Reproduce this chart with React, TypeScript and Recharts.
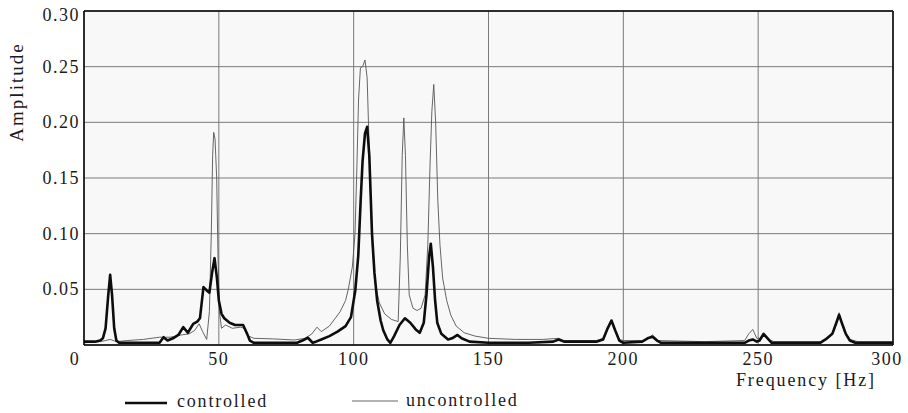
import React from 'react';
import { LineChart, Line, XAxis, YAxis, CartesianGrid, ReferenceLine } from 'recharts';

// frequency axis [Hz] and amplitudes
const freqControlled = [
  0, 4, 6, 7, 8, 9, 9.7, 10.4, 11.2, 12, 13, 20, 28, 29.5, 31, 33, 35, 36.8, 38.5, 40.5,
  42, 43, 44.3, 45.5, 46.5, 47.5, 48.4, 49.3, 50, 51, 52, 54, 56, 59, 60.5, 61.5, 63, 79, 81, 83,
  84.8, 86, 88, 91, 94, 97, 99, 100.6, 101.7, 102.6, 103.3, 104.2, 105, 105.8, 106.8, 107.7, 108.7, 110, 111, 112.5,
  113.6, 115, 117, 119, 121, 123, 124.5, 126, 127, 128, 128.6, 129.4, 130.2, 131, 132.5, 135, 136.5, 138.5, 140, 143,
  150, 165, 174, 176, 178, 190, 192.5, 194, 195.6, 197, 198.5, 200, 207, 209, 210.8, 212.5, 214, 230, 245, 246.5,
  248, 249.5, 250.5, 252, 253.5, 255, 273, 275, 277.5, 279, 280, 281, 282.5, 284, 286, 300,
];
const ampControlled = [
  0.003, 0.003, 0.004, 0.006, 0.015, 0.045, 0.063, 0.045, 0.015, 0.004, 0.002, 0.002, 0.002, 0.007, 0.004, 0.006, 0.009, 0.016, 0.011, 0.019,
  0.021, 0.024, 0.052, 0.049, 0.047, 0.065, 0.078, 0.06, 0.04, 0.028, 0.024, 0.02, 0.018, 0.018, 0.01, 0.004, 0.002, 0.002, 0.004, 0.0065,
  0.002, 0.003, 0.005, 0.008, 0.012, 0.017, 0.025, 0.049, 0.08, 0.13, 0.165, 0.19, 0.196, 0.17, 0.1, 0.065, 0.04, 0.022, 0.013, 0.005,
  0.002, 0.008, 0.018, 0.024, 0.02, 0.014, 0.011, 0.02, 0.045, 0.08, 0.091, 0.07, 0.04, 0.02, 0.01, 0.005, 0.006, 0.009, 0.006, 0.003,
  0.002, 0.002, 0.003, 0.005, 0.003, 0.003, 0.005, 0.014, 0.022, 0.013, 0.004, 0.002, 0.003, 0.006, 0.0075, 0.004, 0.002, 0.002, 0.002, 0.004,
  0.005, 0.003, 0.004, 0.01, 0.006, 0.002, 0.002, 0.005, 0.01, 0.02, 0.027, 0.02, 0.01, 0.004, 0.002, 0.002,
];

const freqUncontrolled = [
  0, 6, 8, 9.7, 12, 16, 22, 28, 32, 36, 39, 41, 42.7, 44, 45.5, 46.5, 47.2, 47.7, 48.1, 48.6,
  49.2, 49.7, 50.2, 51, 52.5, 55, 58, 59.5, 61, 63, 70, 78, 82, 84.5, 86.4, 88, 91, 95, 97, 98,
  99.5, 100.5, 101.2, 101.8, 102.5, 103.3, 104.2, 105, 105.6, 106.3, 107, 108, 109.5, 111.5, 114, 116.5, 117.3, 118, 118.6, 119.2,
  119.9, 120.6, 122, 123.5, 125, 126.5, 127.5, 128.3, 129, 129.7, 130.4, 131.2, 132, 133, 134.5, 136, 138, 141, 145, 150,
  160, 170, 176, 178, 190, 192.5, 194, 195.6, 197, 198.5, 200, 208, 210.8, 213, 230, 245, 246.5, 248, 249.5, 251,
  252, 253.5, 256, 273, 276, 278, 279.3, 280, 280.8, 282, 284, 287, 300,
];
const ampUncontrolled = [
  0.002, 0.003, 0.004, 0.005, 0.003, 0.004, 0.005, 0.007, 0.007, 0.009, 0.01, 0.013, 0.019, 0.012, 0.005, 0.03, 0.1, 0.17, 0.191, 0.185,
  0.15, 0.08, 0.03, 0.015, 0.018, 0.015, 0.016, 0.015, 0.008, 0.006, 0.0055, 0.0045, 0.006, 0.01, 0.016, 0.012, 0.017, 0.03, 0.04, 0.05,
  0.07, 0.1, 0.16, 0.22, 0.249, 0.25, 0.256, 0.24, 0.19, 0.13, 0.085, 0.055, 0.038, 0.028, 0.023, 0.021, 0.08, 0.17, 0.204, 0.17,
  0.09, 0.045, 0.033, 0.031, 0.033, 0.045, 0.09, 0.16, 0.21, 0.234, 0.2, 0.13, 0.09, 0.06, 0.04, 0.027, 0.017, 0.011, 0.008, 0.006,
  0.005, 0.005, 0.006, 0.004, 0.004, 0.006, 0.014, 0.021, 0.013, 0.005, 0.004, 0.004, 0.009, 0.004, 0.003, 0.004, 0.01, 0.014, 0.006, 0.006,
  0.009, 0.005, 0.003, 0.003, 0.006, 0.012, 0.022, 0.029, 0.022, 0.012, 0.005, 0.003, 0.003,
];

const xTicks = [0, 50, 100, 150, 200, 250, 300];
const yTicks = [0, 0.05, 0.1, 0.15, 0.2, 0.25, 0.3];

const controlled = freqControlled.map((f, i) => ({ f, a: ampControlled[i] }));
const uncontrolled = freqUncontrolled.map((f, i) => ({ f, a: ampUncontrolled[i] }));

const FONT = '"Liberation Serif", "DejaVu Serif", serif';
const INK = '#1a1a1a';

const XTick = ({ x, y, payload }: any) => (
  <text
    x={payload.value === 0 ? x - 9 : payload.value === 300 ? x - 6 : x}
    y={y}
    dy={10}
    textAnchor="middle"
    fontFamily={FONT}
    fontSize={18}
    letterSpacing={1.5}
    fill={INK}
  >
    {payload.value}
  </text>
);

const YTick = ({ x, y, payload }: any) => {
  if (payload.value === 0) return null;
  return (
    <text
      x={x}
      y={payload.value === 0.3 ? y + 4 : y}
      dy={6}
      textAnchor="end"
      fontFamily={FONT}
      fontSize={18}
      letterSpacing={1.5}
      fill={INK}
    >
      {payload.value.toFixed(2)}
    </text>
  );
};

const XLabel = ({ viewBox }: any) => (
  <text
    x={viewBox.x + viewBox.width - 17}
    y={viewBox.y + 41}
    textAnchor="end"
    fontFamily={FONT}
    fontSize={18}
    letterSpacing={1.9}
    fill={INK}
  >
    Frequency [Hz]
  </text>
);

const YLabel = () => (
  <text
    x={16}
    y={92}
    transform="rotate(-90 16 92)"
    textAnchor="middle"
    dominantBaseline="central"
    fontFamily={FONT}
    fontSize={19}
    letterSpacing={2}
    fill={INK}
  >
    Amplitude
  </text>
);

export default function App() {
  return (
    <div style={{ position: 'absolute', left: 0, top: 0, width: 908, height: 413, background: '#fff' }}>
      <LineChart width={908} height={413} margin={{ top: 11, right: 15, bottom: 38, left: 0 }}>
        <CartesianGrid stroke="#7a7a7a" strokeWidth={1} fill="#f8f8f8" />
        <XAxis
          dataKey="f"
          type="number"
          domain={[0, 300]}
          ticks={xTicks}
          allowDataOverflow
          height={30}
          tickSize={0}
          tickMargin={10}
          tick={<XTick />}
          stroke="#000"
          strokeWidth={1.5}
          label={<XLabel />}
        />
        <YAxis
          type="number"
          domain={[0, 0.3]}
          ticks={yTicks}
          allowDataOverflow
          width={84}
          tickSize={0}
          tickMargin={4}
          tick={<YTick />}
          stroke="#000"
          strokeWidth={1.5}
          label={<YLabel />}
        />
        <ReferenceLine y={0.3} stroke="#000" strokeWidth={1.5} />
        <ReferenceLine x={300} stroke="#000" strokeWidth={1.5} />
        <Line
          data={uncontrolled}
          dataKey="a"
          type="linear"
          stroke="#555"
          strokeWidth={0.9}
          dot={false}
          isAnimationActive={false}
        />
        <Line
          data={controlled}
          dataKey="a"
          type="linear"
          stroke="#0d0d0d"
          strokeWidth={2.6}
          strokeLinejoin="round"
          dot={false}
          isAnimationActive={false}
        />
      </LineChart>
      <svg width={908} height={30} style={{ position: 'absolute', left: 0, top: 388 }}>
        <line x1={125} x2={167} y1={15} y2={15} stroke="#0d0d0d" strokeWidth={2.6} />
        <text x={177} y={19} fontFamily={FONT} fontSize={18} letterSpacing={1.8} fill={INK}>
          controlled
        </text>
        <line x1={352} x2={398} y1={13} y2={13} stroke="#555" strokeWidth={0.9} />
        <text x={406} y={18} fontFamily={FONT} fontSize={18} letterSpacing={1.8} fill={INK}>
          uncontrolled
        </text>
      </svg>
    </div>
  );
}
